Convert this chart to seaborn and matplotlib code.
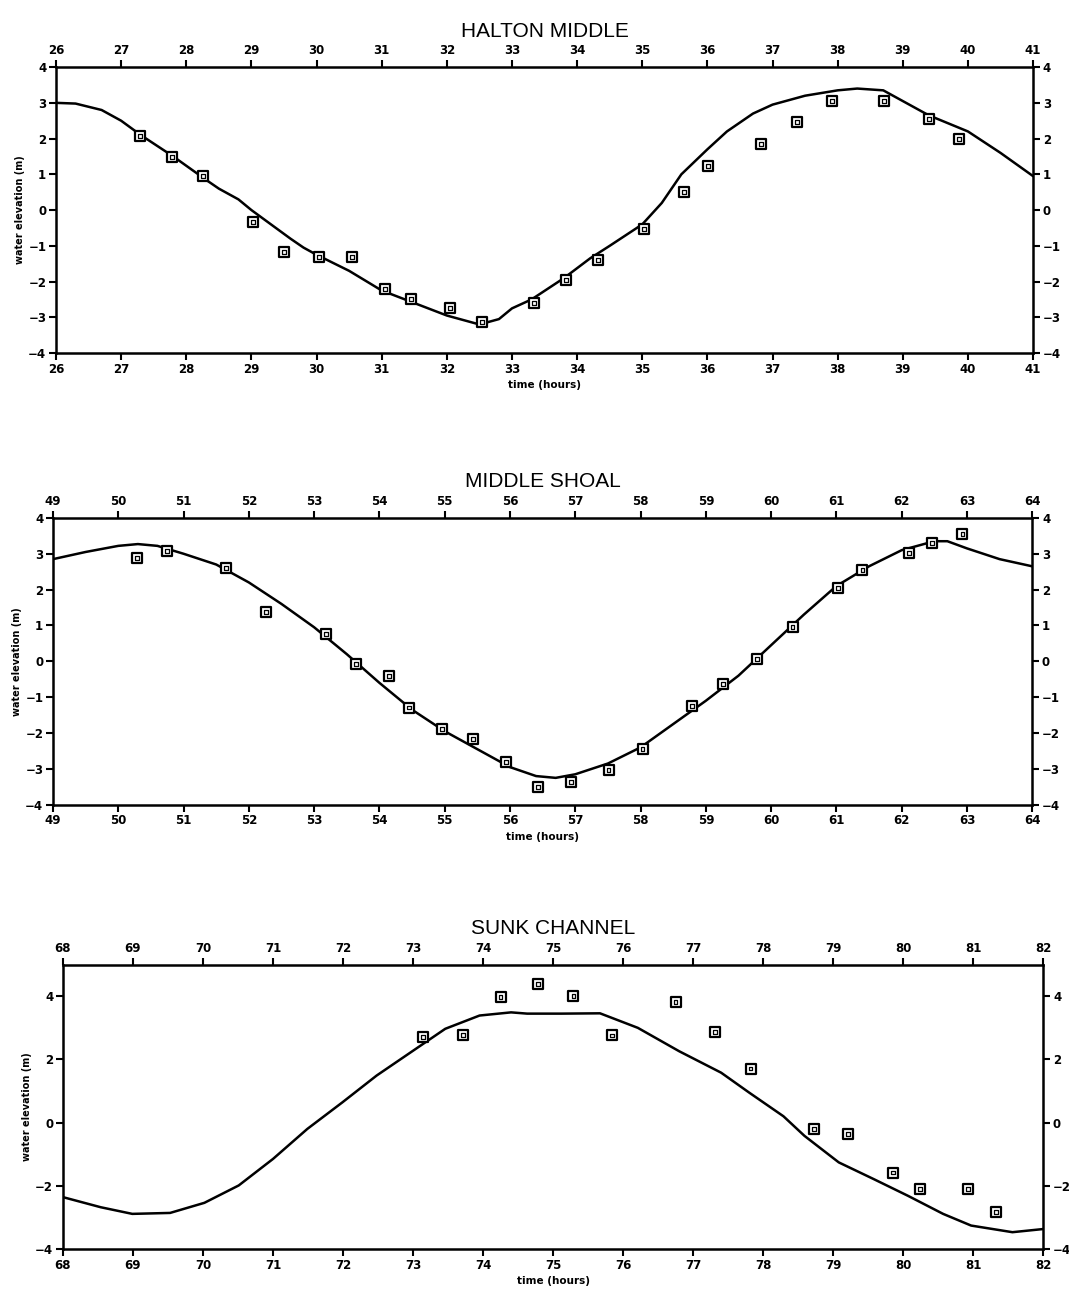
import numpy as np
import pandas as pd
import matplotlib
matplotlib.use("Agg")
import matplotlib.pyplot as plt
import seaborn as sns

# ---- HALTON MIDDLE ----
halton_model_t = [26.0, 26.3, 26.7, 27.0, 27.3, 27.8, 28.3, 28.5, 28.8, 29.0, 29.3, 29.6, 29.8,
                  30.0, 30.5, 31.0, 31.5, 32.0, 32.5, 32.8, 33.0, 33.3, 33.8, 34.2, 34.5, 35.0,
                  35.3, 35.6, 36.0, 36.3, 36.7, 37.0, 37.5, 38.0, 38.3, 38.7, 39.0, 39.4, 39.8,
                  40.0, 40.5, 41.0]
halton_model_h = [3.0, 2.98, 2.8, 2.5, 2.1, 1.5, 0.85, 0.6, 0.3, 0.0, -0.4, -0.8, -1.05,
                  -1.25, -1.7, -2.25, -2.6, -2.95, -3.2, -3.05, -2.75, -2.5, -1.9, -1.35, -1.0, -0.4,
                  0.2, 1.0, 1.7, 2.2, 2.7, 2.95, 3.2, 3.35, 3.4, 3.35, 3.05, 2.65, 2.35,
                  2.2, 1.6, 0.95]
halton_obs_t = [27.29, 27.78, 28.26, 29.02, 29.5, 30.04, 30.54, 31.05, 31.45, 32.05, 32.54,
                33.34, 33.83, 34.32, 35.03, 35.64, 36.01, 36.82, 37.38, 37.91, 38.71, 39.40, 39.86]
halton_obs_h = [2.07, 1.48, 0.95, -0.34, -1.17, -1.31, -1.31, -2.21, -2.49, -2.74, -3.13,
                -2.60, -1.96, -1.40, -0.53, 0.50, 1.23, 1.85, 2.46, 3.05, 3.05, 2.55, 1.99]

# ---- MIDDLE SHOAL ----
shoal_model_t = [49.0, 49.5, 50.0, 50.3, 50.6, 51.0, 51.5, 52.0, 52.5, 53.0, 53.5, 54.0, 54.5,
                 55.0, 55.5, 56.0, 56.4, 56.7, 57.0, 57.5, 58.0, 58.5, 59.0, 59.5, 60.0, 60.5,
                 61.0, 61.5, 62.0, 62.5, 62.7, 63.0, 63.5, 64.0]
shoal_model_h = [2.85, 3.05, 3.22, 3.27, 3.22, 3.0, 2.7, 2.2, 1.6, 0.95, 0.2, -0.6, -1.35,
                 -1.95, -2.45, -2.95, -3.2, -3.25, -3.15, -2.85, -2.4, -1.75, -1.1, -0.4, 0.45, 1.3,
                 2.1, 2.65, 3.1, 3.35, 3.35, 3.15, 2.85, 2.65]
shoal_obs_t = [50.29, 50.75, 51.65, 52.26, 53.18, 53.64, 54.15, 54.45, 54.96, 55.43, 55.94, 56.43,
               56.93, 57.51, 58.03, 58.79, 59.26, 59.78, 60.33, 61.02, 61.40, 62.11, 62.46, 62.93]
shoal_obs_h = [2.89, 3.08, 2.61, 1.38, 0.77, -0.07, -0.40, -1.29, -1.88, -2.16, -2.80, -3.50,
               -3.36, -3.03, -2.44, -1.24, -0.63, 0.07, 0.96, 2.05, 2.55, 3.03, 3.30, 3.55]

# ---- SUNK CHANNEL ----
sunk_model_t = [68.0, 68.54, 68.99, 69.53, 70.02, 70.51, 71.0, 71.49, 71.99, 72.48, 72.97, 73.46,
                73.95, 74.4, 74.63, 75.12, 75.67, 76.21, 76.8, 77.4, 77.8, 78.29, 78.59, 79.08,
                79.58, 80.07, 80.57, 80.97, 81.56, 82.0]
sunk_model_h = [-2.36, -2.68, -2.89, -2.86, -2.54, -1.99, -1.15, -0.2, 0.64, 1.49, 2.23, 2.97,
                3.39, 3.49, 3.45, 3.45, 3.46, 3.0, 2.26, 1.58, 0.95, 0.2, -0.42, -1.26,
                -1.79, -2.32, -2.89, -3.26, -3.47, -3.37]
sunk_obs_t = [73.14, 73.71, 74.25, 74.78, 75.29, 75.84, 76.75, 77.31, 77.82, 78.73, 79.21,
              79.85, 80.24, 80.93, 81.33]
sunk_obs_h = [2.70, 2.78, 3.97, 4.38, 4.0, 2.76, 3.82, 2.87, 1.71, -0.21, -0.37,
              -1.58, -2.11, -2.11, -2.84]

panels = [
    ("HALTON MIDDLE", halton_model_t, halton_model_h, halton_obs_t, halton_obs_h,
     (26, 41), (-4, 4), list(range(-4, 5)), [0.0524, 0.728, 0.914, 0.2203]),
    ("MIDDLE SHOAL", shoal_model_t, shoal_model_h, shoal_obs_t, shoal_obs_h,
     (49, 64), (-4, 4), list(range(-4, 5)), [0.0496, 0.380, 0.916, 0.221]),
    ("SUNK CHANNEL", sunk_model_t, sunk_model_h, sunk_obs_t, sunk_obs_h,
     (68, 82), (-4, 5), [-4, -2, 0, 2, 4], [0.0589, 0.0378, 0.917, 0.219]),
]

sns.set_style("ticks")
plt.rcParams['font.family'] = ['DejaVu Sans']
plt.rcParams['text.color'] = 'black'
plt.rcParams['axes.labelcolor'] = 'black'
plt.rcParams['xtick.color'] = 'black'
plt.rcParams['ytick.color'] = 'black'

fig = plt.figure(figsize=(10.69, 12.98), dpi=100)

for title, mt, mh, ot, oh, xlim, ylim, yticks, rect in panels:
    ax = fig.add_axes(rect)
    model = pd.DataFrame({"t": mt, "h": mh})
    obs = pd.DataFrame({"t": ot, "h": oh})
    sns.lineplot(data=model, x="t", y="h", ax=ax, color="black", linewidth=1.8)
    sns.scatterplot(data=obs, x="t", y="h", ax=ax, marker="s", s=55,
                    facecolor="white", edgecolor="black", linewidth=1.6, zorder=3)
    sns.scatterplot(data=obs, x="t", y="h", ax=ax, marker="s", s=7,
                    facecolor="none", edgecolor="black", linewidth=0.9, zorder=4)
    ax.set_xlim(*xlim)
    ax.set_ylim(*ylim)
    ax.set_xticks(range(xlim[0], xlim[1] + 1))
    ax.set_yticks(yticks)
    ax.tick_params(axis="both", which="both", direction="out", length=5, width=1.5,
                   top=True, right=True, labeltop=True, labelright=True,
                   labelsize=8.5, pad=2, color="black", labelcolor="black")
    for lab in ax.get_xticklabels() + ax.get_yticklabels():
        lab.set_fontweight("bold")
    for sp in ax.spines.values():
        sp.set_visible(True)
        sp.set_linewidth(1.8)
        sp.set_color("black")
    ax.set_xlabel("time (hours)", fontsize=7.5, fontweight="bold", labelpad=3, color="black")
    ax.set_ylabel("water elevation (m)", fontsize=7, fontweight="bold", labelpad=2, color="black")
    ax.set_title(title, fontsize=15, pad=22, fontfamily="Liberation Sans", color="black")

fig.savefig("out.png", dpi=100, facecolor="white")
